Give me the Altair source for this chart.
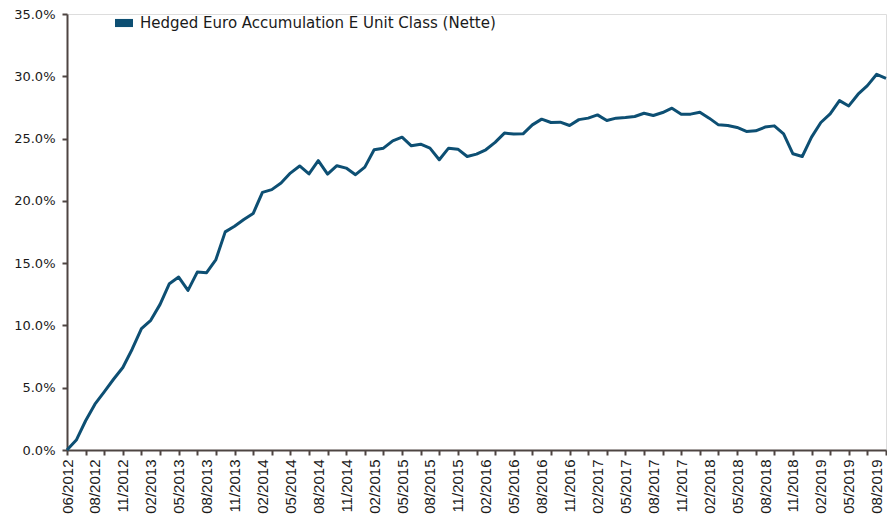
import altair as alt
import pandas as pd

series_name = "Hedged Euro Accumulation E Unit Class (Nette)"

# cumulative performance in %, one point per index (index 0 = inception)
values = [
    0.0, 0.8, 2.35, 3.68, 4.67, 5.68, 6.62, 8.09, 9.74, 10.41,
    11.69, 13.35, 13.88, 12.81, 14.28, 14.23, 15.29, 17.51, 17.96, 18.5,
    18.98, 20.68, 20.9, 21.43, 22.23, 22.8, 22.16, 23.23, 22.15, 22.82,
    22.63, 22.1, 22.71, 24.1, 24.23, 24.82, 25.11, 24.42, 24.55, 24.23,
    23.3, 24.23, 24.15, 23.56, 23.75, 24.1, 24.69, 25.44, 25.36, 25.38,
    26.1, 26.56, 26.29, 26.32, 26.05, 26.52, 26.64, 26.9, 26.45, 26.64,
    26.69, 26.77, 27.03, 26.85, 27.09, 27.44, 26.96, 26.96, 27.12, 26.64,
    26.1, 26.05, 25.89, 25.57, 25.62, 25.92, 26.02, 25.38, 23.78, 23.56,
    25.12, 26.29, 26.98, 28.05, 27.62, 28.56, 29.25, 30.16, 29.84,
]

tick_labels = [
    "06/2012", "08/2012", "11/2012", "02/2013", "05/2013", "08/2013",
    "11/2013", "02/2014", "05/2014", "08/2014", "11/2014", "02/2015",
    "05/2015", "08/2015", "11/2015", "02/2016", "05/2016", "08/2016",
    "11/2016", "02/2017", "05/2017", "08/2017", "11/2017", "02/2018",
    "05/2018", "08/2018", "11/2018", "02/2019", "05/2019", "08/2019",
]

y_ticks = [0, 5, 10, 15, 20, 25, 30, 35]

LINE = "#0d4f73"
AXIS = "#4e4542"

df = pd.DataFrame({
    "idx": list(range(len(values))),
    "value": values,
    "series": [series_name] * len(values),
})

n = len(values)
label_positions = [3 * i for i in range(len(tick_labels))]
tick_positions = sorted(set(range(0, n, 2)) | set(label_positions))

arr = "[" + ",".join("'" + s + "'" for s in tick_labels) + "]"
label_expr = f"datum.value % 3 == 0 ? {arr}[datum.value / 3] : ''"

x_axis = alt.Axis(
    values=tick_positions,
    labelExpr=label_expr,
    labelAngle=-90,
    labelAlign="right",
    labelBaseline="middle",
    labelFont="Liberation Sans",
    labelFontSize=15,
    labelColor="#1a1a1a",
    labelPadding=4,
    labelOverlap=False,
    labelFlush=False,
    domainColor=AXIS,
    domainWidth=2,
    tickColor=AXIS,
    tickWidth=2,
    tickSize=5,
    tickOpacity={"condition": {"test": "datum.value % 2 == 0", "value": 1}, "value": 0},
    grid=False,
    title=None,
)

y_axis = alt.Axis(
    values=y_ticks,
    labelExpr="format(datum.value, '.1f') + '%'",
    labelFont="DejaVu Sans",
    labelFontSize=13,
    labelColor="#1a1a1a",
    labelPadding=7,
    domainColor=AXIS,
    domainWidth=2,
    tickColor=AXIS,
    tickWidth=2,
    tickSize=5,
    grid=False,
    title=None,
)

chart = (
    alt.Chart(df)
    .mark_line(strokeWidth=3, strokeJoin="round")
    .encode(
        x=alt.X("idx:Q", scale=alt.Scale(domain=[0, n - 1], nice=False, zero=False), axis=x_axis),
        y=alt.Y("value:Q", scale=alt.Scale(domain=[0, 35], nice=False), axis=y_axis),
        color=alt.Color(
            "series:N",
            scale=alt.Scale(range=[LINE]),
            legend=alt.Legend(
                orient="none",
                legendX=48,
                legendY=0,
                title=None,
                symbolType="M-1,-0.45H1V0.45H-1Z",
                symbolSize=324,
                symbolFillColor=LINE,
                symbolStrokeColor=LINE,
                symbolStrokeWidth=0,
                symbolOpacity=1,
                labelFont="DejaVu Sans",
                labelFontSize=15,
                labelColor="#1a1a1a",
                labelOffset=7,
                padding=0,
                labelLimit=600,
            ),
        ),
    )
    .properties(
        width=819,
        height=436,
        autosize=alt.AutoSizeParams(type="none"),
        padding={"left": 59, "top": 6, "right": 1, "bottom": 66},
    )
    .configure_view(stroke=None)
    .configure(background="white")
)

chart.save("out.html", embed_options={"renderer": "svg", "actions": False})
